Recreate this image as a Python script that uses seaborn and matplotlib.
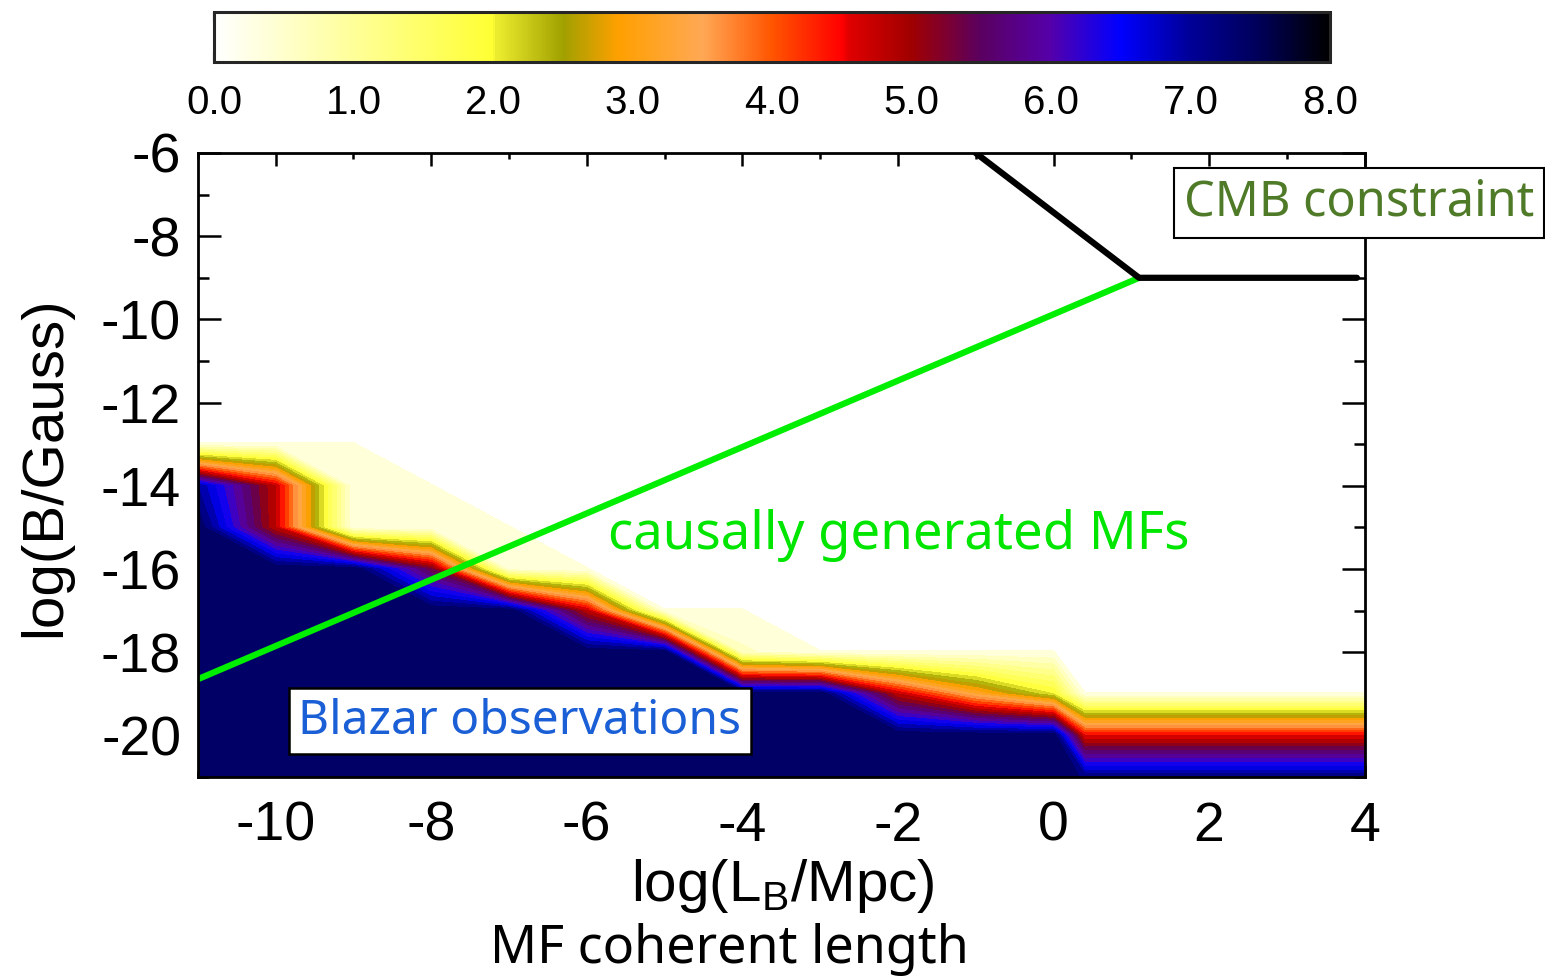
import numpy as np
import matplotlib
matplotlib.use("Agg")
import matplotlib.pyplot as plt
import seaborn as sns
from matplotlib.colors import LinearSegmentedColormap, Normalize
from matplotlib.ticker import MultipleLocator, FormatStrFormatter

# ---------------- data ----------------
# grid nodes of the significance map
log_L = [-11, -10, -9, -8, -7, -6, -5, -4, -3, -2, -1, 0, 0.4, 4]
log_B = [-6, -7, -8, -9, -10, -11, -12, -13, -14, -15, -16, -17, -18, -19, -20, -21]
# significance (sigma) at each node, one row per log_B value (top to bottom)
sig_B6 = [0] * 14
sig_B7 = [0] * 14
sig_B8 = [0] * 14
sig_B9 = [0] * 14
sig_B10 = [0] * 14
sig_B11 = [0] * 14
sig_B12 = [0] * 14
sig_B13 = [0.25, 0.25, 0.25, 0, 0, 0, 0, 0, 0, 0, 0, 0, 0, 0]
sig_B14 = [7.0, 4.75, 0.25, 0.25, 0, 0, 0, 0, 0, 0, 0, 0, 0, 0]
sig_B15 = [7.5, 4.75, 0.25, 0.25, 0.25, 0, 0, 0, 0, 0, 0, 0, 0, 0]
sig_B16 = [7.5, 7.5, 7.5, 5.3, 0.36, 0.25, 0, 0, 0, 0, 0, 0, 0, 0]
sig_B17 = [7.5, 7.5, 7.5, 7.5, 7.5, 4.75, 0.25, 0.25, 0, 0, 0, 0, 0, 0]
sig_B18 = [7.5, 7.5, 7.5, 7.5, 7.5, 7.5, 7.5, 0.56, 0.25, 0.25, 0.25, 0.25, 0, 0]
sig_B19 = [7.5, 7.5, 7.5, 7.5, 7.5, 7.5, 7.5, 7.5, 7.5, 4.75, 3.2, 2.0, 0.25, 0.25]
sig_B20 = [7.5, 7.5, 7.5, 7.5, 7.5, 7.5, 7.5, 7.5, 7.5, 7.5, 7.5, 7.5, 4.5, 4.5]
sig_B21 = [7.5, 7.5, 7.5, 7.5, 7.5, 7.5, 7.5, 7.5, 7.5, 7.5, 7.5, 7.5, 7.2, 7.2]

# lines
causal_L = [-11.0, 1.1]
causal_B = [-18.65, -9.0]
cmb_L = [-1.0, 1.1, 3.9]
cmb_B = [-6.0, -9.0, -9.0]

# colour scale
cbar_ticks = [0, 1, 2, 3, 4, 5, 6, 7, 8]
cmap_pos = [0.0, 1.0, 2.0, 2.01, 2.5, 2.9, 3.5, 4.0, 4.5, 4.55, 5.0, 5.5, 6.0, 6.5, 7.0, 7.5, 8.0]
cmap_col = ["#ffffff", "#ffff99", "#ffff33", "#eeee30", "#a0a000", "#ffa000", "#ffa855",
            "#ff5500", "#ff0000", "#e00000", "#a00000", "#5a0060", "#5500aa", "#0000ff",
            "#000098", "#000058", "#000000"]

# ---------------- style ----------------
sns.set_style("ticks")
plt.rcParams["font.family"] = ["Liberation Sans", "DejaVu Sans"]
plt.rcParams["axes.unicode_minus"] = False
plt.rcParams["mathtext.fontset"] = "custom"
plt.rcParams["mathtext.rm"] = "Liberation Sans"
for key in ["text.color", "axes.labelcolor", "xtick.color", "ytick.color",
            "xtick.labelcolor", "ytick.labelcolor"]:
    plt.rcParams[key] = "black"

cmap = LinearSegmentedColormap.from_list(
    "idl", list(zip([p / 8.0 for p in cmap_pos], cmap_col)), N=512)
norm = Normalize(vmin=0, vmax=8)

Z = np.array([sig_B6, sig_B7, sig_B8, sig_B9, sig_B10, sig_B11, sig_B12, sig_B13,
              sig_B14, sig_B15, sig_B16, sig_B17, sig_B18, sig_B19, sig_B20, sig_B21])

fig = plt.figure(figsize=(15.45, 9.77), dpi=100)
ax = fig.add_axes([0.128, 0.2047, 0.7553, 0.6387])

levels = np.concatenate([[0.24], np.arange(0.5, 7.76, 0.25)])
ax.contourf(log_L, log_B, Z, levels=levels, cmap=cmap, norm=norm)

sns.lineplot(x=causal_L, y=causal_B, ax=ax, color="#00ee00", linewidth=4.5,
             sort=False, estimator=None)
sns.lineplot(x=cmb_L, y=cmb_B, ax=ax, color="black", linewidth=4.5,
             sort=False, estimator=None)

ax.set_xlim(-11, 4)
ax.set_ylim(-21, -6)
ax.xaxis.set_major_locator(MultipleLocator(2))
ax.xaxis.set_minor_locator(MultipleLocator(1))
ax.yaxis.set_major_locator(MultipleLocator(2))
ax.yaxis.set_minor_locator(MultipleLocator(1))
ax.tick_params(axis="both", which="both", direction="in", top=True, right=True,
               width=1.8, colors="black", labelcolor="black")
ax.tick_params(axis="x", which="major", length=9, labelsize=40, pad=17)
ax.tick_params(axis="x", which="minor", length=4.5)
ax.tick_params(axis="y", which="major", length=16.5, labelsize=40, pad=12)
ax.tick_params(axis="y", which="minor", length=8)
for s in ax.spines.values():
    s.set_linewidth(2)
    s.set_color("black")

ax.set_xlabel("log(L$_\\mathregular{B}$/Mpc)", fontsize=42, color="black")
ax.xaxis.set_label_coords(0.501, -0.128)
ax.set_ylabel("log(B/Gauss)", fontsize=42, color="black")
ax.yaxis.set_label_coords(-0.108, 0.497)

fig.text(729 / 1545, 1 - 950 / 977, "MF coherent length", fontsize=37.5,
         family=["Noto Sans", "DejaVu Sans"], color="black", ha="center", va="center")

ax.text(0.276, 0.0897, "Blazar observations", transform=ax.transAxes, fontsize=34.5,
        family=["Noto Sans", "DejaVu Sans"], color="#1a5fd6", ha="center", va="center",
        bbox=dict(boxstyle="square,pad=0.2", fc="white", ec="black", lw=1.8))
fig.text(899 / 1545, 1 - 535 / 977, "causally generated MFs", fontsize=38,
         family=["Noto Sans", "DejaVu Sans"], color="#00e600", ha="center", va="center")
fig.text(1359 / 1545, 1 - 203 / 977, "CMB constraint", fontsize=35,
         family=["Noto Sans", "DejaVu Sans"], color="#4f7a28", ha="center", va="center",
         bbox=dict(boxstyle="square,pad=0.2", fc="white", ec="black", lw=1.5))

# colour bar
cax = fig.add_axes([0.1385, 0.9365, 0.7223, 0.0512])
sm = plt.cm.ScalarMappable(norm=norm, cmap=cmap)
cb = fig.colorbar(sm, cax=cax, orientation="horizontal")
cb.set_ticks(cbar_ticks)
cax.xaxis.set_major_formatter(FormatStrFormatter("%.1f"))
cax.xaxis.set_minor_locator(MultipleLocator(0.5))
cax.tick_params(which="both", direction="in", top=True, bottom=True, length=7,
                width=1.5, labelsize=29, pad=16, colors="black", labelcolor="black")
cb.outline.set_linewidth(2.2)

fig.savefig("out.png", dpi=100)
